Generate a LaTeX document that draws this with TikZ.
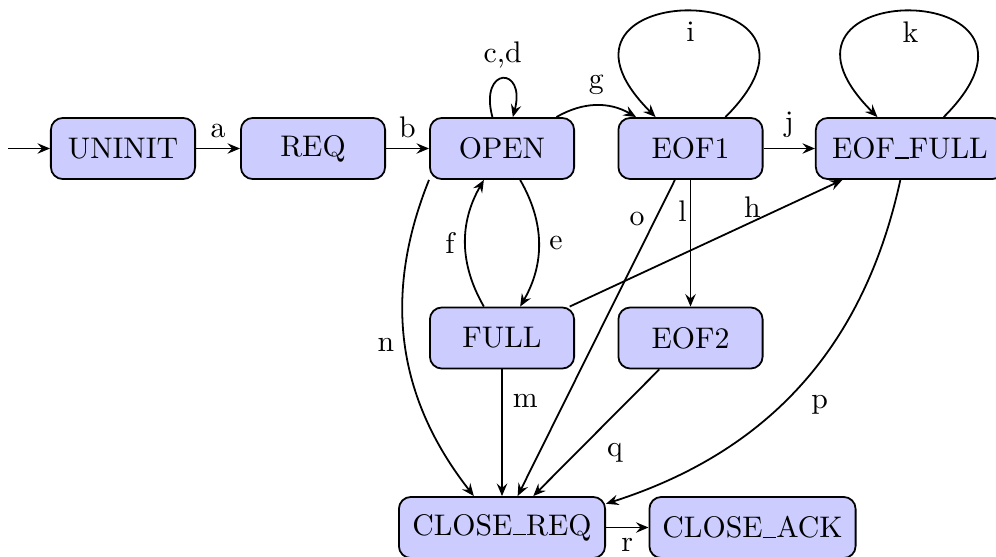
\documentclass[tikz,border=0pt]{standalone}
\usetikzlibrary{arrows.meta}
\newcommand\usc{\rule{4.6pt}{0.4pt}}
\begin{document}
\begin{tikzpicture}[x=0.3356pt,y=0.3356pt,
  state/.style={draw, fill=blue!20, rounded corners=4pt, minimum width=48.4pt,
    minimum height=20.5pt, inner sep=3.33pt, line width=0.6pt},
  edge/.style={draw, line width=0.6pt, -{Stealth[length=4.2pt,width=3.5pt,inset=1.5pt]}}]
\useasboundingbox (0,0) rectangle (996,556);
% states
\node[state] (UNINIT) at (123,407.5) {UNINIT};
\node[state] (REQ) at (313,407.5) {REQ};
\node[state] (OPEN) at (502,407.5) {OPEN};
\node[state] (EOF1) at (690.5,407.5) {EOF1};
\node[state, minimum width=63.2pt] (EOFFULL) at (910,407.5) {EOF\usc FULL};
\node[state] (FULL) at (502,218) {FULL};
\node[state] (EOF2) at (690.5,218) {EOF2};
\node[state, minimum width=69.2pt] (CLOSEREQ) at (502,28.5) {CLOSE\usc REQ};
\node[state, minimum width=69.2pt] (CLOSEACK) at (752.5,28.5) {CLOSE\usc ACK};
\coordinate (start) at (8,407.5);
% transitions
\path[edge] (start) -- (UNINIT);
\path[edge] (UNINIT) -- node[above]{a} (REQ);
\path[edge] (REQ) -- node[above]{b} (OPEN);
\path[edge] (OPEN.107) .. controls +(105:53) and +(75:53) .. node[above]{c,d} (OPEN.71);
\path[edge] (OPEN) to[bend left] node[above]{g} (EOF1);
\path[edge] (EOF1.42) .. controls +(45:200) and +(135:200) .. node[below]{i} (EOF1.138);
\path[edge] (EOF1) -- node[above]{j} (EOFFULL);
\path[edge] (EOFFULL.43.7) .. controls +(45:200) and +(135:200) .. node[below]{k} (EOFFULL.136.3);
\path[edge] (OPEN) to[bend left] node[right]{e} (FULL);
\path[edge] (FULL) to[bend left] node[left]{f} (OPEN);
\path[edge] (FULL) -- node[pos=0.67, above, inner sep=1pt]{h} (EOFFULL);
\path[edge] (EOF1) -- node[pos=0.25, left, inner sep=1pt]{l} (EOF2);
\path[edge] (EOF1) -- node[pos=0.125, left]{o} (CLOSEREQ);
\path[edge] (OPEN.south west) to[bend right] node[left]{n} (CLOSEREQ);
\path[edge] (FULL) -- node[pos=0.25, right]{m} (CLOSEREQ);
\path[edge] (EOF2) -- node[anchor=north west]{q} (CLOSEREQ);
\path[edge] (EOFFULL) to[bend left] node[anchor=north west]{p} (CLOSEREQ);
\path[edge] (CLOSEREQ) -- node[below]{r} (CLOSEACK);
\end{tikzpicture}
\end{document}
